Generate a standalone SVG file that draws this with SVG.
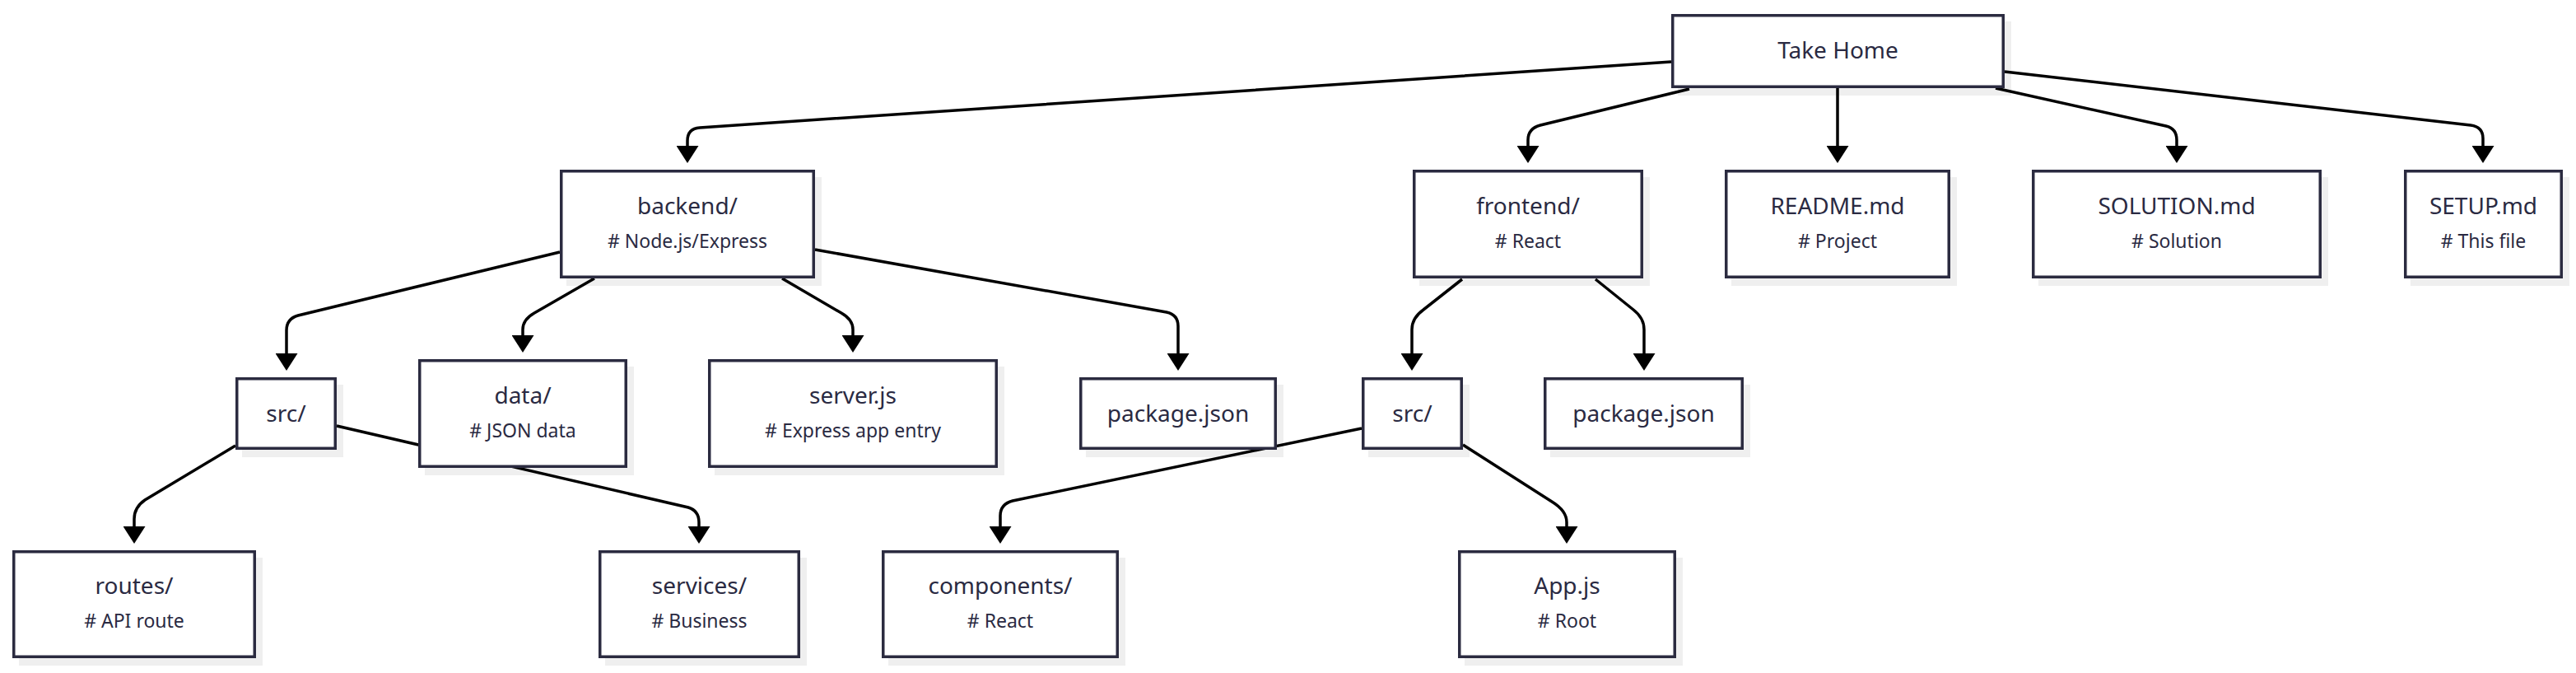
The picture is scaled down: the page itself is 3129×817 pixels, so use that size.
<svg xmlns="http://www.w3.org/2000/svg" width="3129" height="817" viewBox="0 0 3129 817">
<style>
.sh{fill:#efefef}
.bx{fill:#ffffff;stroke:#2b2b40;stroke-width:3.5}
.t{font-family:"Noto Sans","Liberation Sans",sans-serif;font-size:28px;fill:#2a2a42;text-anchor:middle}
.s{font-family:"Noto Sans","Liberation Sans",sans-serif;font-size:23px;fill:#2a2a42;text-anchor:middle}
.e{fill:none;stroke:#000;stroke-width:3.5;marker-end:url(#ah)}
</style>
<defs>
<marker id="ah" markerUnits="userSpaceOnUse" markerWidth="22" markerHeight="27" refX="0" refY="13.5" orient="auto" viewBox="0 0 22 27">
<path d="M0,0 L21,13.5 L0,27 z" fill="#000"/>
</marker>
</defs>
<rect width="3129" height="817" fill="#ffffff"/>
<g id="shadows">
<rect class="sh" x="2038" y="26" width="405" height="90"/>
<rect class="sh" x="688" y="215" width="310" height="132"/>
<rect class="sh" x="1724" y="215" width="280" height="132"/>
<rect class="sh" x="2103" y="215" width="274" height="132"/>
<rect class="sh" x="2476" y="215" width="352" height="132"/>
<rect class="sh" x="2928" y="215" width="193" height="132"/>
<rect class="sh" x="294" y="467" width="123" height="88"/>
<rect class="sh" x="516" y="445" width="254" height="132"/>
<rect class="sh" x="868" y="445" width="352" height="132"/>
<rect class="sh" x="1319" y="467" width="240" height="88"/>
<rect class="sh" x="1662" y="467" width="123" height="88"/>
<rect class="sh" x="1883" y="467" width="243" height="88"/>
<rect class="sh" x="23" y="677" width="296" height="131"/>
<rect class="sh" x="735" y="677" width="245" height="131"/>
<rect class="sh" x="1079" y="677" width="288" height="131"/>
<rect class="sh" x="1779" y="677" width="265" height="131"/>
</g>
<g id="connectors">
<path class="e" d="M2030,75 L850,155 Q835,156 835,171 L835,177"/>
<path class="e" d="M2052,108 L1871,152 Q1856,156 1856,170 L1856,177"/>
<path class="e" d="M2232,107 L2232,177"/>
<path class="e" d="M2424,107 L2631,153 Q2644,156 2644,170 L2644,177"/>
<path class="e" d="M2435,87 L3001,152 Q3016,154 3016,168 L3016,177"/>
<path class="e" d="M680,306 L362,383 Q348,387 348,401 L348,429"/>
<path class="e" d="M722,338 L649,380 Q635,388 635,400 L635,407"/>
<path class="e" d="M950,338 L1022,380 Q1036,388 1036,400 L1036,407"/>
<path class="e" d="M990,303 L1417,379 Q1431,382 1431,396 L1431,429"/>
<path class="e" d="M1776,339 L1729,376 Q1715,386 1715,400 L1715,429"/>
<path class="e" d="M1938,339 L1984,376 Q1997,386 1997,400 L1997,429"/>
<path class="e" d="M286,541 L176,607 Q163,616 163,630 L163,639"/>
<path class="e" d="M409,517 L836,616 Q849,620 849,634 L849,639"/>
<path class="e" d="M1654,520 L1230,608 Q1215,612 1215,626 L1215,639"/>
<path class="e" d="M1777,540 L1885,609 Q1903,620 1903,634 L1903,639"/>
</g>
<g id="n-takehome"><rect class="bx" x="2031.75" y="18.75" width="401.5" height="86.5"/><text class="t" x="2232.5" y="71">Take Home</text></g>
<g id="n-backend"><rect class="bx" x="681.75" y="207.75" width="306.5" height="128.5"/><text class="t" x="835" y="260">backend/</text><text class="s" x="835" y="301"># Node.js/Express</text></g>
<g id="n-frontend"><rect class="bx" x="1717.75" y="207.75" width="276.5" height="128.5"/><text class="t" x="1856" y="260">frontend/</text><text class="s" x="1856" y="301"># React</text></g>
<g id="n-readme"><rect class="bx" x="2096.75" y="207.75" width="270.5" height="128.5"/><text class="t" x="2232" y="260">README.md</text><text class="s" x="2232" y="301"># Project</text></g>
<g id="n-solution"><rect class="bx" x="2469.75" y="207.75" width="348.5" height="128.5"/><text class="t" x="2644" y="260">SOLUTION.md</text><text class="s" x="2644" y="301"># Solution</text></g>
<g id="n-setup"><rect class="bx" x="2921.75" y="207.75" width="189.5" height="128.5"/><text class="t" x="3016.5" y="260">SETUP.md</text><text class="s" x="3016.5" y="301"># This file</text></g>
<g id="n-src-backend"><rect class="bx" x="287.75" y="459.75" width="119.5" height="84.5"/><text class="t" x="347.5" y="512">src/</text></g>
<g id="n-data"><rect class="bx" x="509.75" y="437.75" width="250.5" height="128.5"/><text class="t" x="635" y="490">data/</text><text class="s" x="635" y="531"># JSON data</text></g>
<g id="n-server"><rect class="bx" x="861.75" y="437.75" width="348.5" height="128.5"/><text class="t" x="1036" y="490">server.js</text><text class="s" x="1036" y="531"># Express app entry</text></g>
<g id="n-package-backend"><rect class="bx" x="1312.75" y="459.75" width="236.5" height="84.5"/><text class="t" x="1431" y="512">package.json</text></g>
<g id="n-src-frontend"><rect class="bx" x="1655.75" y="459.75" width="119.5" height="84.5"/><text class="t" x="1715.5" y="512">src/</text></g>
<g id="n-package-frontend"><rect class="bx" x="1876.75" y="459.75" width="239.5" height="84.5"/><text class="t" x="1996.5" y="512">package.json</text></g>
<g id="n-routes"><rect class="bx" x="16.75" y="669.75" width="292.5" height="127.5"/><text class="t" x="163" y="721">routes/</text><text class="s" x="163" y="762"># API route</text></g>
<g id="n-services"><rect class="bx" x="728.75" y="669.75" width="241.5" height="127.5"/><text class="t" x="849.5" y="721">services/</text><text class="s" x="849.5" y="762"># Business</text></g>
<g id="n-components"><rect class="bx" x="1072.75" y="669.75" width="284.5" height="127.5"/><text class="t" x="1215" y="721">components/</text><text class="s" x="1215" y="762"># React</text></g>
<g id="n-app"><rect class="bx" x="1772.75" y="669.75" width="261.5" height="127.5"/><text class="t" x="1903.5" y="721">App.js</text><text class="s" x="1903.5" y="762"># Root</text></g>
</svg>
